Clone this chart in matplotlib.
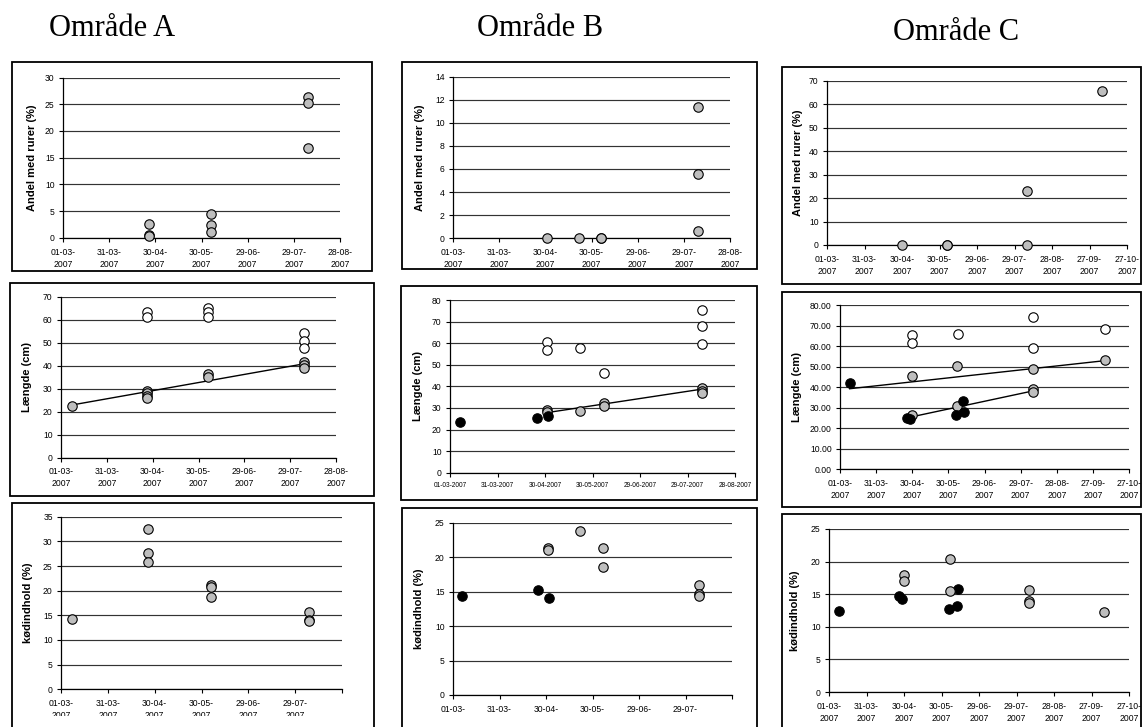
import numpy as np
import matplotlib
matplotlib.use("Agg")
import matplotlib.pyplot as plt
from matplotlib.patches import Rectangle

# ---------------- data ----------------
titles = ["Område A", "Område B", "Område C"]
ylab_rur = "Andel med rurer (%)"
ylab_len = "Længde (cm)"
ylab_kod = "kødindhold (%)"

# Område A
a_rur_dates = ['2007-04-26'] * 3 + ['2007-06-05'] * 3 + ['2007-08-07'] * 3
a_rur_vals = [2.7, 0.6, 0.4, 4.4, 2.4, 1.2, 26.3, 25.3, 16.9]

a_len_grey_dates = ['2007-03-08'] + ['2007-04-26'] * 4 + ['2007-06-05'] * 2 + ['2007-08-07'] * 3
a_len_grey_vals = [22.6, 29.0, 28.0, 27.0, 26.0, 36.3, 35.3, 41.5, 40.2, 38.9]
a_len_white_dates = ['2007-04-26'] * 2 + ['2007-06-05'] * 3 + ['2007-08-07'] * 3
a_len_white_vals = [63.5, 61.3, 64.9, 63.5, 61.3, 54.1, 50.7, 47.5]
a_len_trend_dates = ['2007-03-08', '2007-08-07']
a_len_trend_vals = [22.9, 40.8]

a_kod_dates = ['2007-03-08'] + ['2007-04-26'] * 3 + ['2007-06-05'] * 3 + ['2007-08-07'] * 3
a_kod_vals = [14.3, 32.5, 27.6, 25.8, 21.1, 20.8, 18.7, 15.6, 14.0, 13.8]

# Område B
b_rur_dates = ['2007-05-01', '2007-05-22', '2007-06-05', '2007-06-05'] + ['2007-08-07'] * 3
b_rur_vals = [0.0, 0.0, 0.0, 0.0, 11.4, 5.6, 0.6]

b_len_black_dates = ['2007-03-07', '2007-04-25', '2007-05-02']
b_len_black_vals = [23.3, 25.2, 26.3]
b_len_grey_dates = ['2007-05-01', '2007-05-01', '2007-05-22', '2007-06-06', '2007-06-06'] + ['2007-08-07'] * 3
b_len_grey_vals = [29.0, 28.3, 28.6, 32.4, 30.8, 39.1, 38.0, 36.8]
b_len_white_dates = ['2007-05-01', '2007-05-01', '2007-05-22', '2007-06-06'] + ['2007-08-07'] * 3
b_len_white_vals = [60.7, 56.8, 57.6, 46.3, 75.4, 68.1, 59.5]
b_len_trend_dates = ['2007-05-01', '2007-08-07']
b_len_trend_vals = [27.8, 38.7]

b_kod_black_dates = ['2007-03-07', '2007-04-25', '2007-05-02']
b_kod_black_vals = [14.4, 15.2, 14.1]
b_kod_grey_dates = ['2007-05-01', '2007-05-01', '2007-05-22', '2007-06-06', '2007-06-06'] + ['2007-08-07'] * 3
b_kod_grey_vals = [21.4, 21.0, 23.8, 21.4, 18.5, 15.9, 14.7, 14.4]

# Område C
c_rur_dates = ['2007-04-30', '2007-06-05', '2007-06-05', '2007-08-08', '2007-08-08', '2007-10-07']
c_rur_vals = [0.0, 0.0, 0.0, 23.2, 0.0, 65.6]

c_len_black_dates = ['2007-03-09', '2007-04-26', '2007-04-28', '2007-06-05', '2007-06-11', '2007-06-12']
c_len_black_vals = [42.3, 24.9, 24.4, 26.7, 33.4, 27.9]
c_len_grey_dates = ['2007-04-30', '2007-06-06', '2007-08-08', '2007-10-07',
                    '2007-04-30', '2007-06-06', '2007-08-08', '2007-08-08']
c_len_grey_vals = [45.6, 50.5, 49.0, 53.1, 26.6, 30.9, 39.0, 37.6]
c_len_white_dates = ['2007-04-30', '2007-04-30', '2007-06-07', '2007-08-08', '2007-08-08', '2007-10-07']
c_len_white_vals = [65.3, 61.5, 65.9, 74.5, 59.4, 68.4]
c_len_trend_hi_dates = ['2007-03-09', '2007-10-07']
c_len_trend_hi_vals = [39.3, 53.0]
c_len_trend_lo_dates = ['2007-04-28', '2007-08-08']
c_len_trend_lo_vals = [25.4, 38.2]

c_kod_black_dates = ['2007-03-09', '2007-04-26', '2007-04-28', '2007-06-05', '2007-06-11', '2007-06-12']
c_kod_black_vals = [12.5, 14.8, 14.3, 12.7, 13.2, 15.8]
c_kod_grey_dates = ['2007-04-30', '2007-04-30', '2007-06-06', '2007-06-06',
                    '2007-08-08', '2007-08-08', '2007-08-08', '2007-10-07']
c_kod_grey_vals = [17.9, 17.0, 20.4, 15.5, 15.6, 14.0, 13.6, 12.3]

# x-axis tick dates
ticks_ab = ['2007-03-01', '2007-03-31', '2007-04-30', '2007-05-30', '2007-06-29', '2007-07-29', '2007-08-28']
ticks_c = ticks_ab + ['2007-09-27', '2007-10-27']

# ---------------- styling ----------------
W, H = 1145, 727
fig = plt.figure(figsize=(W / 100, H / 100), dpi=100)
fig.patch.set_facecolor('white')
SANS = ['Liberation Sans', 'DejaVu Sans']
SERIF = ['Liberation Serif', 'DejaVu Serif']
GREY = '#BEBEBE'
GRID = '#333333'


def d(lst):
    return np.array(lst, dtype='datetime64[D]')


def box(x0, y0, x1, y1):
    fig.add_artist(Rectangle((x0 / W, 1 - y1 / H), (x1 - x0) / W, (y1 - y0) / H,
                             transform=fig.transFigure, fill=False, ec='black', lw=1.3))


def make_ax(x0, ytop, x1, ybot, ymax, ystep, ticks, fmt='%d-%m-\n%Y', tsize=6.2,
            yfmt='{:g}', hide_last=False, label=None, labx=None, pad=4):
    ax = fig.add_axes([x0 / W, 1 - ybot / H, (x1 - x0) / W, (ybot - ytop) / H])
    ax.set_facecolor('none')
    for s in ['top', 'right']:
        ax.spines[s].set_visible(False)
    for s in ['left', 'bottom']:
        ax.spines[s].set_linewidth(0.9)
        ax.spines[s].set_color('black')
    tk = d(ticks)
    ax.set_xlim(tk[0], tk[-1])
    ax.set_ylim(0, ymax)
    yt = np.arange(0, ymax + ystep / 2, ystep)
    ax.set_yticks(yt)
    ax.set_yticklabels([yfmt.format(v) for v in yt], fontsize=6.2, family=SANS)
    ax.set_xticks(tk)
    labs = [t.astype(object).strftime(fmt) for t in tk]
    if hide_last:
        labs[-1] = ''
    ax.set_xticklabels(labs, fontsize=tsize, family=SANS, linespacing=1.4)
    ax.tick_params(direction='out', length=3, width=0.8, colors='black')
    ax.tick_params(axis='x', pad=pad)
    ax.tick_params(axis='y', pad=3)
    ax.yaxis.grid(True, color=GRID, lw=0.85)
    ax.set_axisbelow(True)
    if label:
        fig.text(labx / W, 1 - ((ytop + ybot) / 2) / H, label, rotation=90, ha='center', va='center',
                 fontsize=8, fontweight='bold', family=SANS)
    return ax


def pts(ax, dates, vals, fc):
    ax.plot(d(dates), vals, 'o', ms=6.8, mfc=fc, mec='black', mew=0.8, ls='none',
            zorder=4, clip_on=False)


def trend(ax, dates, vals):
    ax.plot(d(dates), vals, '-', color='black', lw=1.0, zorder=3)


# titles
fig.text(112 / W, 1 - 28 / H, titles[0], ha='center', va='center', fontsize=22, family=SERIF)
fig.text(540 / W, 1 - 28 / H, titles[1], ha='center', va='center', fontsize=22, family=SERIF)
fig.text(956 / W, 1 - 33 / H, titles[2], ha='center', va='center', fontsize=22, family=SERIF)

# boxes
box(12, 62, 372, 271)
box(402, 62, 757, 269)
box(782, 67, 1141, 284)
box(10, 283, 374, 496)
box(401, 286, 757, 500)
box(782, 292, 1141, 507)
box(12, 503, 374, 760)
box(402, 508, 757, 760)
box(782, 514, 1141, 760)

# ---- Row 1 ----
ax = make_ax(63, 77.5, 340, 238, 30, 5, ticks_ab, label=ylab_rur, labx=32)
pts(ax, a_rur_dates, a_rur_vals, GREY)

ax = make_ax(453, 76.6, 730, 238.3, 14, 2, ticks_ab, label=ylab_rur, labx=420)
pts(ax, b_rur_dates, b_rur_vals, GREY)

ax = make_ax(827, 81, 1127, 245, 70, 10, ticks_c, label=ylab_rur, labx=798)
pts(ax, c_rur_dates, c_rur_vals, GREY)

# ---- Row 2 ----
ax = make_ax(61, 296.7, 336, 457.7, 70, 10, ticks_ab, label=ylab_len, labx=27)
pts(ax, a_len_white_dates, a_len_white_vals, 'white')
pts(ax, a_len_grey_dates, a_len_grey_vals, GREY)
trend(ax, a_len_trend_dates, a_len_trend_vals)

ax = make_ax(450, 300, 735, 472.7, 80, 10, ticks_ab, fmt='%d-%m-%Y', tsize=4.7,
             label=ylab_len, labx=418, pad=4)
pts(ax, b_len_white_dates, b_len_white_vals, 'white')
pts(ax, b_len_grey_dates, b_len_grey_vals, GREY)
pts(ax, b_len_black_dates, b_len_black_vals, 'black')
trend(ax, b_len_trend_dates, b_len_trend_vals)

ax = make_ax(840, 305.3, 1129, 469.3, 80, 10, ticks_c, yfmt='{:.2f}', label=ylab_len, labx=797)
pts(ax, c_len_white_dates, c_len_white_vals, 'white')
pts(ax, c_len_grey_dates, c_len_grey_vals, GREY)
pts(ax, c_len_black_dates, c_len_black_vals, 'black')
trend(ax, c_len_trend_hi_dates, c_len_trend_hi_vals)
trend(ax, c_len_trend_lo_dates, c_len_trend_lo_vals)

# ---- Row 3 ----
ax = make_ax(61, 516.7, 342, 689.3, 35, 5, ticks_ab, hide_last=True, label=ylab_kod, labx=28)
pts(ax, a_kod_dates, a_kod_vals, GREY)

ax = make_ax(453, 522.7, 732, 695, 25, 5, ticks_ab, fmt='%d-%m-', hide_last=True,
             label=ylab_kod, labx=419)
pts(ax, b_kod_black_dates, b_kod_black_vals, 'black')
pts(ax, b_kod_grey_dates, b_kod_grey_vals, GREY)

ax = make_ax(829, 529, 1129, 692, 25, 5, ticks_c, label=ylab_kod, labx=795)
pts(ax, c_kod_black_dates, c_kod_black_vals, 'black')
pts(ax, c_kod_grey_dates, c_kod_grey_vals, GREY)

# crop of the lower-left panel image
fig.add_artist(Rectangle((14 / W, 0), (371 - 14) / W, (727 - 716) / H, transform=fig.transFigure,
                         fc='white', ec='none', zorder=10))

fig.savefig('out.png', dpi=100, facecolor='white')
